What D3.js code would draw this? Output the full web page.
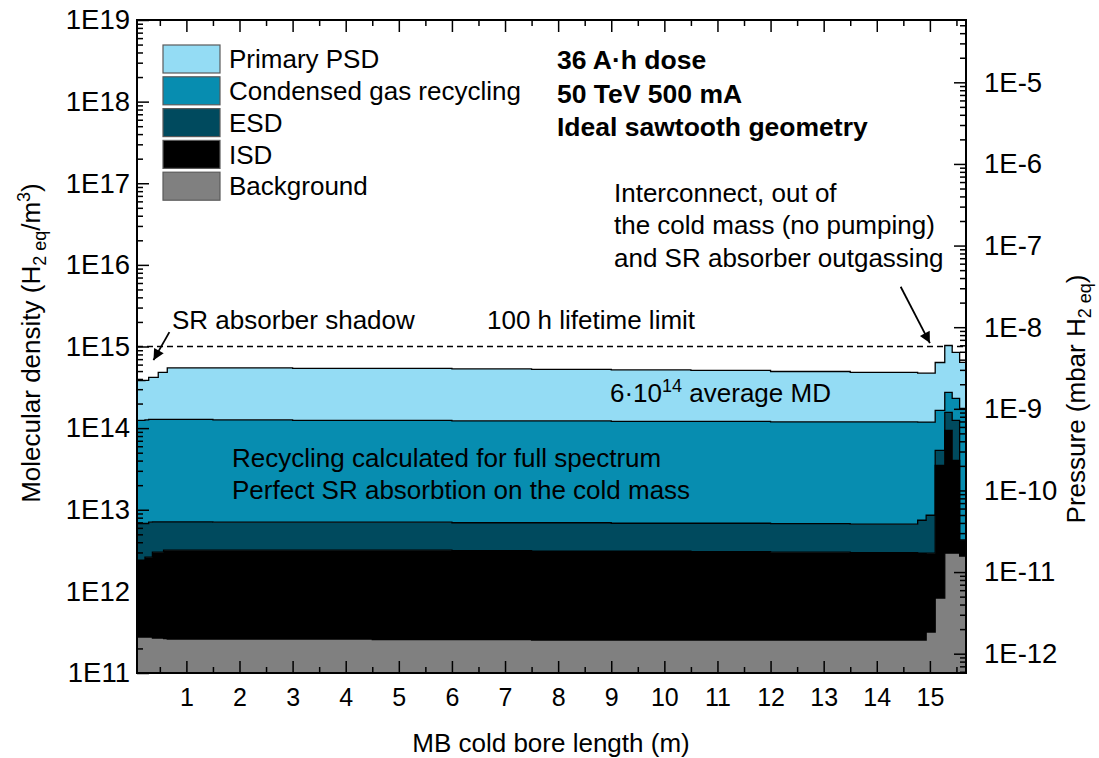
<!DOCTYPE html>
<html>
<head>
<meta charset="utf-8">
<script src="https://cdn.jsdelivr.net/npm/d3@7"></script>
<style>
  body { margin: 0; background: #fff; }
  svg text { font-family: "Liberation Sans", Arial, sans-serif; fill: #000; }
</style>
</head>
<body>
<svg id="chart" width="1099" height="758"></svg>
<script>
// Position of each segment start along the cold bore (m); last segment ends at boreEnd
const binStart = [0.07, 0.22, 0.29, 0.36, 0.47, 0.57, 0.64, 1.5, 3, 4.5, 6, 7.5, 9, 10.5, 12, 13.5,
                  14.77, 14.93, 15.10, 15.28, 15.42, 15.56];
const boreEnd = 15.68;

// Molecular density contributions per segment (H2 eq / m^3), stacked bottom to top
const background = [2.76e11, 2.76e11, 2.76e11, 2.68e11, 2.68e11, 2.64e11, 2.61e11, 2.61e11, 2.61e11, 2.57e11, 2.57e11,
                    2.53e11, 2.53e11, 2.53e11, 2.53e11, 2.53e11, 2.53e11, 3.17e11, 8.27e11, 2.94e12, 2.94e12, 2.70e12];
const isd        = [2.14e12, 2.35e12, 2.35e12, 2.75e12, 2.75e12, 2.93e12, 2.94e12, 2.94e12, 2.94e12, 2.94e12, 2.89e12,
                    2.85e12, 2.85e12, 2.81e12, 2.77e12, 2.73e12, 2.68e12, 2.62e12, 3.42e13, 9.09e13, 3.74e13, 1.54e12];
const esd        = [4.37e12, 4.16e12, 4.41e12, 4.07e12, 4.07e12, 3.90e12, 3.90e12, 3.84e12, 3.84e12, 3.84e12, 3.78e12,
                    3.83e12, 3.73e12, 3.77e12, 3.72e12, 3.67e12, 4.50e12, 5.63e12, 1.84e13, 6.19e13, 8.41e13, 0];
const recycling  = [1.176e14, 1.194e14, 1.209e14, 1.208e14, 1.208e14, 1.208e14, 1.208e14, 1.192e14, 1.174e14, 1.174e14, 1.158e14,
                    1.158e14, 1.142e14, 1.142e14, 1.126e14, 1.127e14, 1.112e14, 1.10e14, 1.115e14, 1.178e14, 1.067e14, 1.70e14];
const primaryPSD = [2.59e14, 2.58e14, 2.90e14, 2.90e14, 3.53e14, 3.53e14, 4.18e14, 4.20e14, 4.14e14, 4.14e14, 4.08e14,
                    4.01e14, 3.95e14, 3.88e14, 3.75e14, 3.62e14, 3.53e14, 3.53e14, 4.72e14, 7.55e14, 6.14e14, 4.63e14];

const seriesNames = ["Background", "ISD", "ESD", "Condensed gas recycling", "Primary PSD"];
const seriesColors = ["#808080", "#000000", "#004a5e", "#078db0", "#94dcf4"];
const legendOrder = ["Primary PSD", "Condensed gas recycling", "ESD", "ISD", "Background"];

const xTicks = [1, 2, 3, 4, 5, 6, 7, 8, 9, 10, 11, 12, 13, 14, 15];
const densityDecades = [11, 12, 13, 14, 15, 16, 17, 18, 19];
const pressureDecades = [-12, -11, -10, -9, -8, -7, -6, -5];
const pressurePerDensity = 5.8e-24;   // mbar per (H2 eq / m^3) at the cold bore temperature
const lifetimeLimit = 1e15;           // 100 h beam-gas lifetime density

const svg = d3.select("#chart");
const plot = { left: 137, right: 966, top: 20, bottom: 673 };

const x = d3.scaleLinear().domain([binStart[0], boreEnd]).range([plot.left, plot.right]);
const y = d3.scaleLog().domain([1e11, 1e19]).range([plot.bottom, plot.top]);
const yP = d3.scaleLog().domain([1e11 * pressurePerDensity, 1e19 * pressurePerDensity]).range([plot.bottom, plot.top]);

// Table of segments; the final row closes the last step at the end of the bore
const rows = binStart.map((s, i) => ({
  x: s,
  "Background": background[i],
  "ISD": isd[i],
  "ESD": esd[i],
  "Condensed gas recycling": recycling[i],
  "Primary PSD": primaryPSD[i]
}));
rows.push(Object.assign({}, rows[rows.length - 1], { x: boreEnd }));

const stacked = d3.stack().keys(seriesNames)(rows);

const defs = svg.append("defs");
defs.append("clipPath").attr("id", "plotClip")
  .append("rect")
  .attr("x", plot.left).attr("y", plot.top)
  .attr("width", plot.right - plot.left).attr("height", plot.bottom - plot.top);

// 100 h lifetime limit
svg.append("line")
  .attr("x1", x(binStart[0])).attr("x2", x(boreEnd))
  .attr("y1", y(lifetimeLimit)).attr("y2", y(lifetimeLimit))
  .attr("stroke", "#000").attr("stroke-width", 1.6).attr("stroke-dasharray", "6,4");

const layers = svg.append("g").attr("clip-path", "url(#plotClip)");
const area = d3.area()
  .x(d => x(d.data.x))
  .y0(d => d[0] > 0 ? y(d[0]) : plot.bottom)
  .y1(d => y(d[1]))
  .curve(d3.curveStepAfter);
const topLine = d3.line()
  .x(d => x(d.data.x))
  .y(d => y(d[1]))
  .curve(d3.curveStepAfter);

stacked.forEach((s, i) => {
  layers.append("path").attr("d", area(s)).attr("fill", seriesColors[i]);
});
stacked.forEach((s, i) => {
  layers.append("path").attr("d", topLine(s))
    .attr("fill", "none").attr("stroke", "#000").attr("stroke-width", 1.3);
});

// Axes with inward ticks
const fontSize = 26;
const xTickFont = 25;
const yTickFont = 27.5;
function styleAxis(size) {
  return g => {
    g.select(".domain").remove();
    g.selectAll(".tick line").attr("stroke", "#000").attr("stroke-width", 1.5);
    g.selectAll("text").attr("font-size", size).attr("font-family", "Liberation Sans, Arial, sans-serif");
  };
}
const xMinor = d3.range(0.5, 15.6, 0.5).filter(v => v % 1 !== 0);

svg.append("g").attr("transform", `translate(0,${plot.bottom})`)
  .call(d3.axisBottom(x).tickValues(xTicks).tickFormat(d3.format("d")).tickSize(-12).tickPadding(15))
  .call(styleAxis(xTickFont));
svg.append("g").attr("transform", `translate(0,${plot.bottom})`)
  .call(d3.axisBottom(x).tickValues(xMinor).tickFormat("").tickSize(-6))
  .call(styleAxis(xTickFont));
svg.append("g").attr("transform", `translate(0,${plot.top})`)
  .call(d3.axisTop(x).tickValues(xTicks).tickFormat("").tickSize(-12))
  .call(styleAxis(xTickFont));
svg.append("g").attr("transform", `translate(0,${plot.top})`)
  .call(d3.axisTop(x).tickValues(xMinor).tickFormat("").tickSize(-6))
  .call(styleAxis(xTickFont));

const densityMajor = densityDecades.map(d => Math.pow(10, d));
const densityMinor = [];
densityDecades.slice(0, -1).forEach(d => { for (let k = 2; k <= 9; k++) densityMinor.push(k * Math.pow(10, d)); });

svg.append("g").attr("transform", `translate(${plot.left},0)`)
  .call(d3.axisLeft(y).tickValues(densityMajor)
    .tickFormat(v => "1E" + Math.round(Math.log10(v))).tickSize(-12).tickPadding(7))
  .call(styleAxis(yTickFont));
svg.append("g").attr("transform", `translate(${plot.left},0)`)
  .call(d3.axisLeft(y).tickValues(densityMinor).tickFormat("").tickSize(-6))
  .call(styleAxis(yTickFont));

const pDomain = yP.domain();
const pressureMajor = pressureDecades.map(d => Math.pow(10, d));
const pressureMinor = [];
for (let d = -13; d <= -5; d++) {
  for (let k = 2; k <= 9; k++) {
    const v = k * Math.pow(10, d);
    if (v >= pDomain[0] && v <= pDomain[1]) pressureMinor.push(v);
  }
}
svg.append("g").attr("transform", `translate(${plot.right},0)`)
  .call(d3.axisRight(yP).tickValues(pressureMajor)
    .tickFormat(v => "1E" + Math.round(Math.log10(v))).tickSize(-12).tickPadding(18))
  .call(styleAxis(yTickFont));
svg.append("g").attr("transform", `translate(${plot.right},0)`)
  .call(d3.axisRight(yP).tickValues(pressureMinor).tickFormat("").tickSize(-6))
  .call(styleAxis(yTickFont));

// Frame
svg.append("rect")
  .attr("x", plot.left).attr("y", plot.top)
  .attr("width", plot.right - plot.left).attr("height", plot.bottom - plot.top)
  .attr("fill", "none").attr("stroke", "#000").attr("stroke-width", 2);

// Axis titles
svg.append("text")
  .attr("x", 551).attr("y", 752)
  .attr("text-anchor", "middle").attr("font-size", fontSize)
  .text("MB cold bore length (m)");

const leftTitle = svg.append("text")
  .attr("transform", "translate(40,343) rotate(-90)")
  .attr("text-anchor", "middle").attr("font-size", fontSize);
leftTitle.append("tspan").text("Molecular density (H");
leftTitle.append("tspan").attr("font-size", 18).attr("dy", 6).text("2 eq");
leftTitle.append("tspan").attr("dy", -6).text("/m");
leftTitle.append("tspan").attr("font-size", 18).attr("dy", -10).text("3");
leftTitle.append("tspan").attr("dy", 10).text(")");

const rightTitle = svg.append("text")
  .attr("transform", "translate(1085,399) rotate(-90)")
  .attr("text-anchor", "middle").attr("font-size", fontSize);
rightTitle.append("tspan").text("Pressure (mbar H");
rightTitle.append("tspan").attr("font-size", 18).attr("dy", 6).text("2 eq");
rightTitle.append("tspan").attr("dy", -6).text(")");

// Legend
const legend = svg.append("g");
legendOrder.forEach((name, i) => {
  const gy = 45 + i * 31.8;
  legend.append("rect")
    .attr("x", 163).attr("y", gy).attr("width", 57).attr("height", 28)
    .attr("fill", seriesColors[seriesNames.indexOf(name)])
    .attr("stroke", "#5a5a5a").attr("stroke-width", 1.2);
  legend.append("text")
    .attr("x", 229).attr("y", gy + 14).attr("dy", "0.35em")
    .attr("font-size", fontSize).text(name);
});

// Run conditions
const cond = ["36 A\u00b7h dose", "50 TeV 500 mA", "Ideal sawtooth geometry"];
cond.forEach((t, i) => {
  svg.append("text").attr("x", 557).attr("y", 60 + i * 33.5).attr("dy", "0.35em")
    .attr("font-size", 26.5).attr("font-weight", "bold").text(t);
});

// Notes
const notes = [
  { x: 614, y: 193, t: "Interconnect, out of" },
  { x: 614, y: 225, t: "the cold mass (no pumping)" },
  { x: 614, y: 258, t: "and SR absorber outgassing" },
  { x: 172, y: 320, t: "SR absorber shadow" },
  { x: 487, y: 320, t: "100 h lifetime limit" },
  { x: 232, y: 458, t: "Recycling calculated for full spectrum" },
  { x: 232, y: 490, t: "Perfect SR absorbtion on the cold mass" }
];
notes.forEach(n => {
  svg.append("text").attr("x", n.x).attr("y", n.y).attr("dy", "0.35em")
    .attr("font-size", fontSize).text(n.t);
});
const avg = svg.append("text").attr("x", 610).attr("y", 393).attr("dy", "0.35em").attr("font-size", fontSize);
avg.append("tspan").text("6\u00b710");
avg.append("tspan").attr("font-size", 18).attr("dy", -10).text("14");
avg.append("tspan").attr("dy", 10).text(" average MD");

// Arrows, positioned in data coordinates
defs.append("marker")
  .attr("id", "arrowHead").attr("viewBox", "0 0 10 10")
  .attr("refX", 10).attr("refY", 5)
  .attr("markerWidth", 16).attr("markerHeight", 11)
  .attr("markerUnits", "userSpaceOnUse").attr("orient", "auto")
  .append("path").attr("d", "M0,0 L10,5 L0,10 Z").attr("fill", "#000");

const arrows = [
  { from: [14.45, 5.4e15], to: [15.0, 1.1e15] },
  { from: [0.68, 1.5e15], to: [0.38, 6.8e14] }
];
arrows.forEach(a => {
  svg.append("line")
    .attr("x1", x(a.from[0])).attr("y1", y(a.from[1]))
    .attr("x2", x(a.to[0])).attr("y2", y(a.to[1]))
    .attr("stroke", "#000").attr("stroke-width", 1.8)
    .attr("marker-end", "url(#arrowHead)");
});
</script>
</body>
</html>
